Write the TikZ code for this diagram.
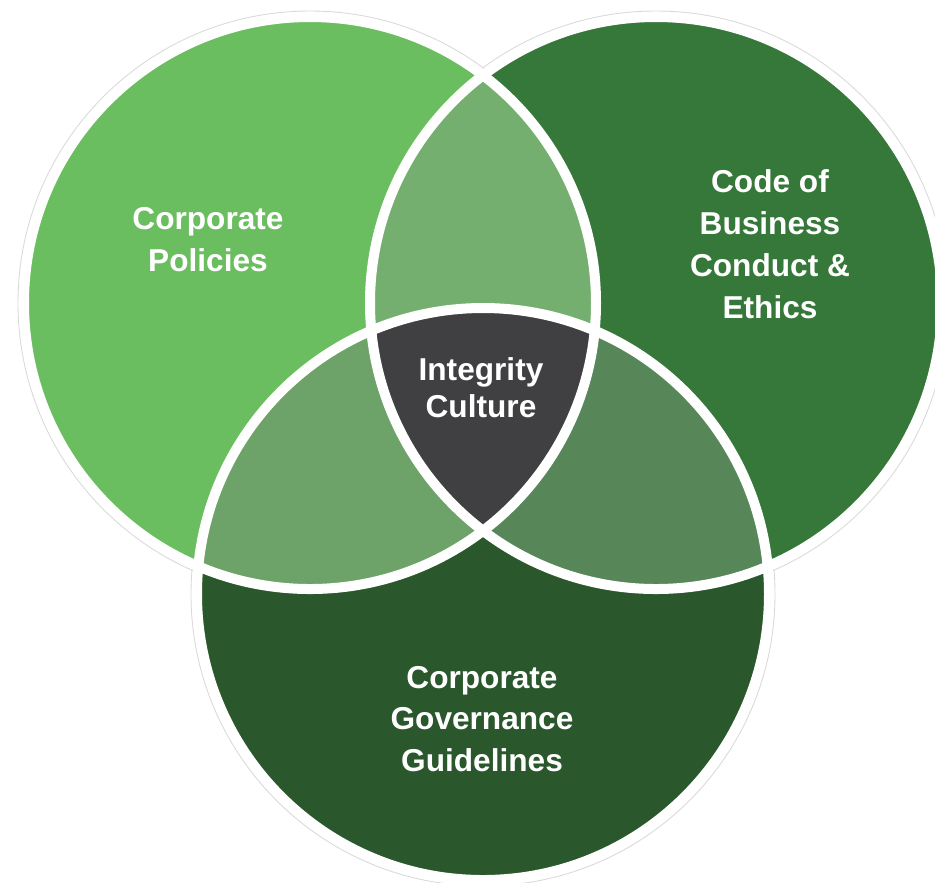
\documentclass[tikz,border=0pt]{standalone}
\usepackage{fontspec}
\setmainfont{Liberation Sans}
\usepackage{tikz}
\usetikzlibrary{positioning}

\definecolor{policygreen}{HTML}{6BBE5F}
\definecolor{codegreen}{HTML}{36773A}
\definecolor{govgreen}{HTML}{2A572B}
\definecolor{pcgreen}{HTML}{74AF6F}
\definecolor{pggreen}{HTML}{6DA368}
\definecolor{cggreen}{HTML}{578759}
\definecolor{coregray}{HTML}{403F41}

\begin{document}
\begin{tikzpicture}[
		ring/.style={white,line width=0.1cm},
		rim/.style={gray!30,line width=0.25pt},
		setlabel/.style={text=white,font=\bfseries\fontsize{9}{11.9}\selectfont,align=center,inner sep=0pt}
	]
		\useasboundingbox (0,0) rectangle (9.35,-8.82);
		\coordinate (L) at (3.10,-3.03);
		\coordinate (R) at (6.56,-3.03);
		\coordinate (B) at (4.83,-5.94);
		
		\draw[rim] (L) circle (2.92cm);
		\draw[rim] (R) circle (2.92cm);
		\draw[rim] (B) circle (2.92cm);
		
		\fill[policygreen] (L) circle (2.86cm);
		\fill[codegreen] (R) circle (2.86cm);
		\fill[govgreen] (B) circle (2.86cm);
		
		\begin{scope}
			\clip (L) circle (2.86cm);
			\fill[pcgreen] (R) circle (2.86cm);
			\fill[pggreen] (B) circle (2.86cm);
		\end{scope}
		\begin{scope}
			\clip (R) circle (2.86cm);
			\fill[cggreen] (B) circle (2.86cm);
			\clip (L) circle (2.86cm);
			\fill[coregray] (B) circle (2.86cm);
		\end{scope}
		
		\draw[ring] (L) circle (2.86cm);
		\draw[ring] (R) circle (2.86cm);
		\draw[ring] (B) circle (2.86cm);
		
		\node[setlabel] (policies) at (2.08,-2.40) {Corporate\\Policies};
		\node[setlabel] (code) at (7.70,-2.44) {Code of\\Business\\Conduct \&\\Ethics};
		\node[setlabel] (governance) at (4.82,-7.19) {Corporate\\Governance\\Guidelines};
		\node[setlabel,font=\bfseries\fontsize{9}{10.5}\selectfont] (culture) at (4.81,-3.875) {Integrity\\Culture};
	\end{tikzpicture}
\end{document}
